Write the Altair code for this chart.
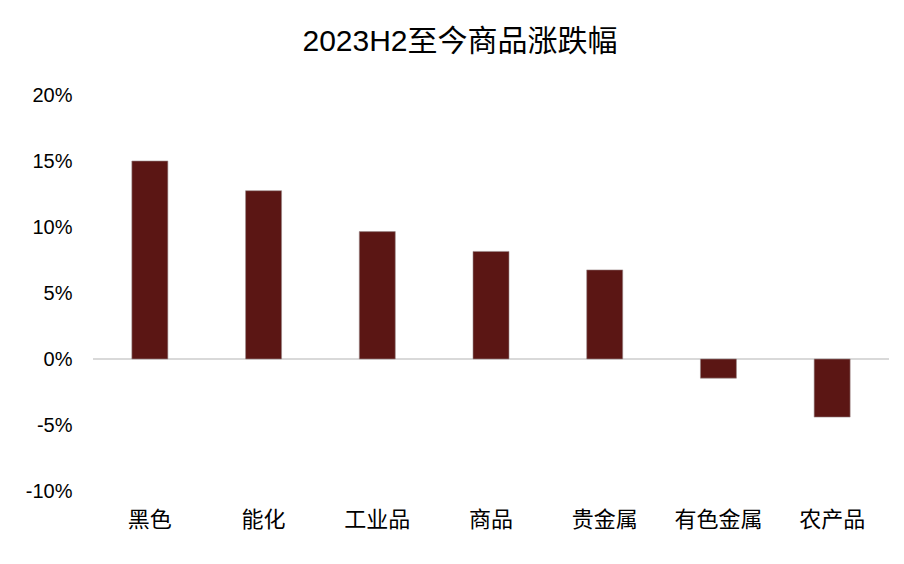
import altair as alt
import pandas as pd

categories = ["黑色", "能化", "工业品", "商品", "贵金属", "有色金属", "农产品"]
values = [15.0, 12.75, 9.65, 8.15, 6.75, -1.45, -4.4]
y_ticks = [-10, -5, 0, 5, 10, 15, 20]

df = pd.DataFrame({"cat": categories, "val": values})
FONT = "Liberation Sans, Arial, Noto Sans CJK SC"

x_enc = alt.X("cat:N", sort=categories, title=None,
              scale=alt.Scale(paddingInner=0, paddingOuter=0),
              axis=alt.Axis(orient="bottom", domain=False, ticks=False, labelAngle=0,
                            labelFontSize=22, labelFont=FONT, labelColor="#000000",
                            labelPadding=18, grid=False))
y_enc = alt.Y("val:Q", title=None,
              scale=alt.Scale(domain=[-10, 20], nice=False, zero=False),
              axis=alt.Axis(values=y_ticks, labelExpr="datum.value + '%'", domain=False,
                            ticks=False, grid=False, labelFontSize=20, labelFont=FONT,
                            labelColor="#000000", labelPadding=21))

bars = alt.Chart(df).mark_bar(size=36, color="#5B1614", stroke="#9a8a8a", strokeWidth=0.6).encode(
    x=x_enc, y=y_enc, y2=alt.datum(0)
)
zero = alt.Chart(pd.DataFrame({"z": [0]})).mark_rule(color="#d9d9d9", strokeWidth=2).encode(
    y=alt.Y("z:Q", scale=alt.Scale(domain=[-10, 20], nice=False, zero=False))
)

chart = alt.layer(zero, bars).properties(
    width=796, height=396,
    title=alt.TitleParams("2023H2至今商品涨跌幅", fontSize=30, font=FONT, fontWeight="normal",
                          color="#000000", anchor="middle", offset=28, dx=-31),
    autosize=alt.AutoSizeParams(type="none"),
    padding={"left": 85, "top": 87, "right": 7, "bottom": 60},
).configure_view(stroke=None)

chart.save("out.html", embed_options={"renderer": "svg", "actions": False})
